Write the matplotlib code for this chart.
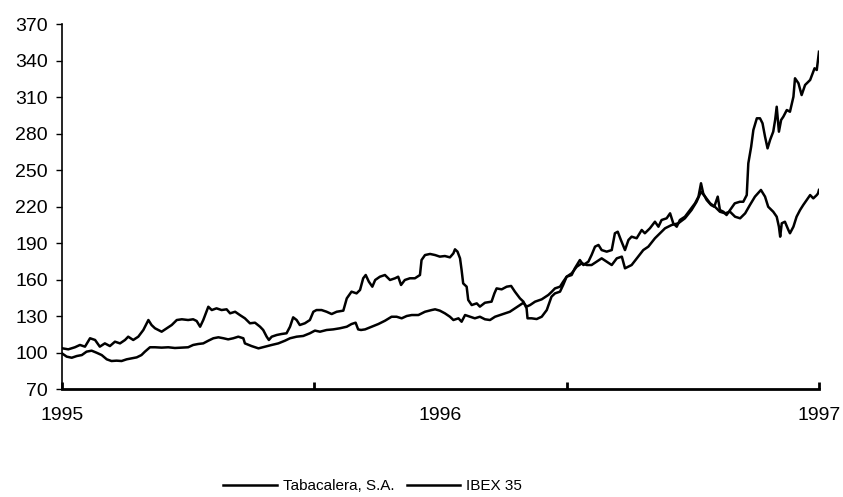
import matplotlib
matplotlib.use("Agg")
import matplotlib.pyplot as plt

# months since January 1995
tab_months = [0, 0.2, 0.41, 0.57, 0.73, 0.89, 1.05, 1.2, 1.36, 1.52, 1.68, 1.84, 2.0, 2.1, 2.26, 2.42, 2.58, 2.74, 2.84, 2.95,
              3.16, 3.32, 3.48, 3.64, 3.8, 4.0, 4.16, 4.27, 4.38, 4.48, 4.64, 4.75, 4.9, 5.06, 5.22, 5.33, 5.49, 5.64,
              5.8, 5.96, 6.12, 6.28, 6.38, 6.49, 6.56, 6.65, 6.81, 6.96, 7.12, 7.23, 7.33, 7.44, 7.54, 7.7, 7.86, 7.97,
              8.07, 8.23, 8.39, 8.55, 8.71, 8.92, 9.03, 9.18, 9.34, 9.45, 9.55, 9.63, 9.73, 9.84, 9.93, 10.08, 10.24,
              10.4, 10.56, 10.66, 10.75, 10.87, 11.03, 11.19, 11.35, 11.4, 11.51, 11.67,
              11.83, 11.98, 12.14, 12.3, 12.41, 12.46, 12.54, 12.62, 12.67, 12.72, 12.83, 12.88, 12.99, 13.15, 13.25,
              13.41, 13.62, 13.71, 13.78, 13.94, 14.1, 14.24, 14.36, 14.52, 14.63, 14.73, 14.76, 14.89, 15.05, 15.21,
              15.37, 15.52, 15.63, 15.79, 15.89, 16.0, 16.16, 16.26, 16.42, 16.53, 16.69, 16.79, 16.9, 17.01, 17.11,
              17.27, 17.43, 17.53, 17.62, 17.72,
              17.85, 17.96, 18.06, 18.22, 18.38, 18.48, 18.64, 18.8, 18.91, 19.01, 19.17, 19.28, 19.38, 19.49, 19.59,
              19.75, 19.91, 20.07, 20.18, 20.26, 20.33, 20.44, 20.58, 20.68, 20.79, 20.86, 20.97, 21.07, 21.18, 21.33,
              21.49, 21.6, 21.71, 21.76, 21.85, 21.92, 22.03, 22.13, 22.21, 22.29, 22.37, 22.45, 22.55, 22.61, 22.66,
              22.73, 22.8, 22.87, 22.98, 23.08, 23.19, 23.24, 23.35, 23.45, 23.56, 23.72, 23.86, 23.93, 23.97, 24.0]
tab_values = [103.5, 102.6, 104.3, 106.2, 104.8, 111.7, 110.3, 104.8, 107.5, 105.3, 108.9, 107.5, 110.3, 113, 110.3, 113,
              118.5, 126.7, 122.6, 119.9, 117.1, 119.9, 122.6, 126.7, 127.3, 126.7, 127.3, 125.9, 121.2, 126.7, 137.6,
              134.9, 136.3, 134.9, 135.5, 132.2, 133.5, 130.8,
              128.1, 124, 124.5, 121.2, 118.5, 113, 110.3, 113, 114.4, 115.2, 115.8, 121.2, 128.9, 126.7, 122.6, 124,
              126.7, 133.5, 134.9, 134.9, 133.5, 131.6, 133.5, 134.4, 144.5, 150, 148.6, 151.4, 161, 163.7, 158.2, 154.1,
              159.6, 162.3, 163.7, 159.6, 161, 162.3, 155.5, 159.6, 161, 161, 163.7, 176, 180.1, 181,
              180.1, 178.8, 179.3, 178.2, 181.5, 184.8, 182.9, 177.4, 167.8, 156.8, 154.1, 143.2, 139, 140.4, 137.7,
              140.9, 141.8, 148.6, 152.7, 151.9, 154.1, 154.7, 150, 144.5, 141.8, 136.3, 128.1, 128.1, 127.5, 129.4,
              134.9, 145.9, 148.6, 150, 155.5, 162.3, 163.7, 169.2, 176, 171.9, 174.7, 180.1, 187, 188.4, 184.2, 182.9,
              184.2, 198, 199.3, 192.5,
              184.2, 192.5, 195.2, 193.9, 200.7, 198, 202.1, 207.5, 203.4, 208.9, 210.3, 214.4, 206.2, 203.4, 208.9,
              211.6, 217.1, 222.6, 228.1, 239.1, 230.8, 225.3, 221.2, 219.8, 228.1, 217.1, 215.7, 213, 217.1, 222.6,
              223.9, 223.9, 229.4, 255.5, 269.1, 282.9, 292.5, 292.5, 288.4, 277.4, 267.8, 274.7, 281.5, 291.1, 302,
              281.5, 291.1, 293.8, 299.3, 297.9, 310.2, 325.4, 321.3, 311.6, 319.9, 324, 333.6, 332.2, 340.4, 347.2]

ibex_months = [0, 0.15, 0.31, 0.47, 0.63, 0.78, 0.94, 1.1, 1.26, 1.42, 1.57, 1.73, 1.89, 2.05, 2.21, 2.37, 2.52, 2.63,
               2.79, 2.95, 3.16, 3.37, 3.58, 3.8, 4.0, 4.16, 4.32, 4.48, 4.64, 4.8, 4.96, 5.12, 5.27, 5.43, 5.59, 5.75,
               5.8, 6.01, 6.23, 6.44, 6.65, 6.86, 7.07, 7.23, 7.44, 7.65, 7.86, 8.02, 8.18, 8.39, 8.6, 8.81, 9.03, 9.18,
               9.31, 9.39, 9.48, 9.61, 9.82, 10.03, 10.24, 10.45, 10.61, 10.77, 10.93, 11.09, 11.3, 11.51, 11.72,
               11.83, 11.98, 12.14, 12.3, 12.41, 12.57, 12.67, 12.78, 12.94, 13.09, 13.25, 13.41, 13.57, 13.73, 13.89,
               14.05, 14.2, 14.36, 14.52, 14.63, 14.73, 14.84, 15.0, 15.21, 15.42, 15.53, 15.63, 15.79, 15.89, 16.0,
               16.16, 16.32, 16.48, 16.64, 16.79, 16.95, 17.11, 17.27, 17.43, 17.59, 17.75,
               17.85, 18.06, 18.27, 18.43, 18.59, 18.8, 18.96, 19.12, 19.33, 19.54, 19.75, 19.96, 20.12, 20.26, 20.39,
               20.55, 20.7, 20.86, 21.02, 21.18, 21.34, 21.5, 21.66, 21.81, 21.97, 22.16, 22.29, 22.39, 22.55, 22.66,
               22.73, 22.77, 22.82, 22.92, 23.03, 23.08, 23.19, 23.29, 23.4, 23.5, 23.61, 23.72, 23.82, 23.93, 23.97, 24.0]
ibex_values = [99.3, 96.6, 95.7, 97.1, 97.9, 100.7, 101.5, 99.8, 97.9, 94.4, 93, 93.3, 93, 94.4, 95.2, 96, 97.9, 100.7,
               104.3, 104.3, 104, 104.3, 103.7, 104, 104.3, 106.2, 107, 107.5, 109.7, 111.7, 112.5, 111.7, 110.8, 111.7,
               113, 111.7,
               107.5, 105.3, 103.4, 104.8, 106.2, 107.5, 109.7, 111.7, 113, 113.6, 115.8, 118, 117.1, 118.5, 119, 119.9,
               121.2, 123.4, 124.5, 119, 118.5, 119, 121.2, 123.4, 126.1, 129.4, 129.4, 128.1, 130, 130.8, 130.8, 133.5,
               134.9,
               135.5, 134.4, 132.2, 129.4, 126.7, 128.1, 125.3, 130.8, 129.4, 128.1, 129.4, 127.3, 126.7, 129.4, 130.8,
               132.2, 133.5, 136.3, 139, 140.9, 137.7, 139, 141.8, 143.7, 147.3, 150, 152.7, 154.1, 158.2, 162.3, 165.1,
               170.5, 173.3, 171.9, 171.9, 174.7, 177.4, 174.7, 171.9, 177.4, 178.8,
               169.2, 171.9, 178.8, 184.2, 187, 193.9, 198, 202.1, 204.8, 206.2, 210.3, 217.1, 223.9, 232.2, 228.1,
               222.6, 219.8, 215.7, 214.4, 215.7, 211.6, 210.3, 214.4, 221.2, 228.1, 233.6, 228.1, 219.8, 215.7, 211.6,
               203.4, 195.2, 206.2, 207.5, 200.7, 198, 203.4, 211.6, 217.1, 221.2, 225.3, 229.4, 226.7, 229.4, 230.8,
               233.6]

series_names = ["Tabacalera, S.A.", "IBEX 35"]
y_ticks = [70, 100, 130, 160, 190, 220, 250, 280, 310, 340, 370]
x_major_ticks = [0, 8, 16, 24]
x_major_labels = ["1995", "", "", "1997"]
x_mid_pos = [12]
x_mid_labels = ["1996"]

plt.rcParams['font.family'] = ['Liberation Sans', 'DejaVu Sans']

fig = plt.figure(figsize=(8.43, 4.97), dpi=100)
ax = fig.add_axes([0.0735, 0.2173, 0.898, 0.7344])

ax.plot(tab_months, tab_values, color="black", lw=1.8, label=series_names[0])
ax.plot(ibex_months, ibex_values, color="black", lw=1.8, label=series_names[1])

ax.set_xlim(0, 24)
ax.set_ylim(70, 370)
ax.set_yticks(y_ticks)
ax.set_yticklabels([str(v) for v in y_ticks], fontsize=14)
ax.tick_params(axis='y', direction='out', length=4, width=1, pad=6, colors='black')

ax.set_xticks(x_major_ticks)
ax.set_xticklabels(x_major_labels, fontsize=14)
ax.tick_params(axis='x', which='major', direction='in', length=5, width=2, pad=13)
ax.set_xticks(x_mid_pos, minor=True)
ax.set_xticklabels(x_mid_labels, minor=True, fontsize=14)
ax.tick_params(axis='x', which='minor', length=0, pad=13)

for side in ["top", "right"]:
    ax.spines[side].set_visible(False)
ax.spines["left"].set_linewidth(1.2)
ax.spines["bottom"].set_linewidth(2.0)

fig.legend(loc="center", bbox_to_anchor=(0.442, 0.022), ncol=2, frameon=False,
           fontsize=11, handlelength=3.5, handletextpad=0.4, columnspacing=0.8)

fig.savefig("out.png", dpi=100)
